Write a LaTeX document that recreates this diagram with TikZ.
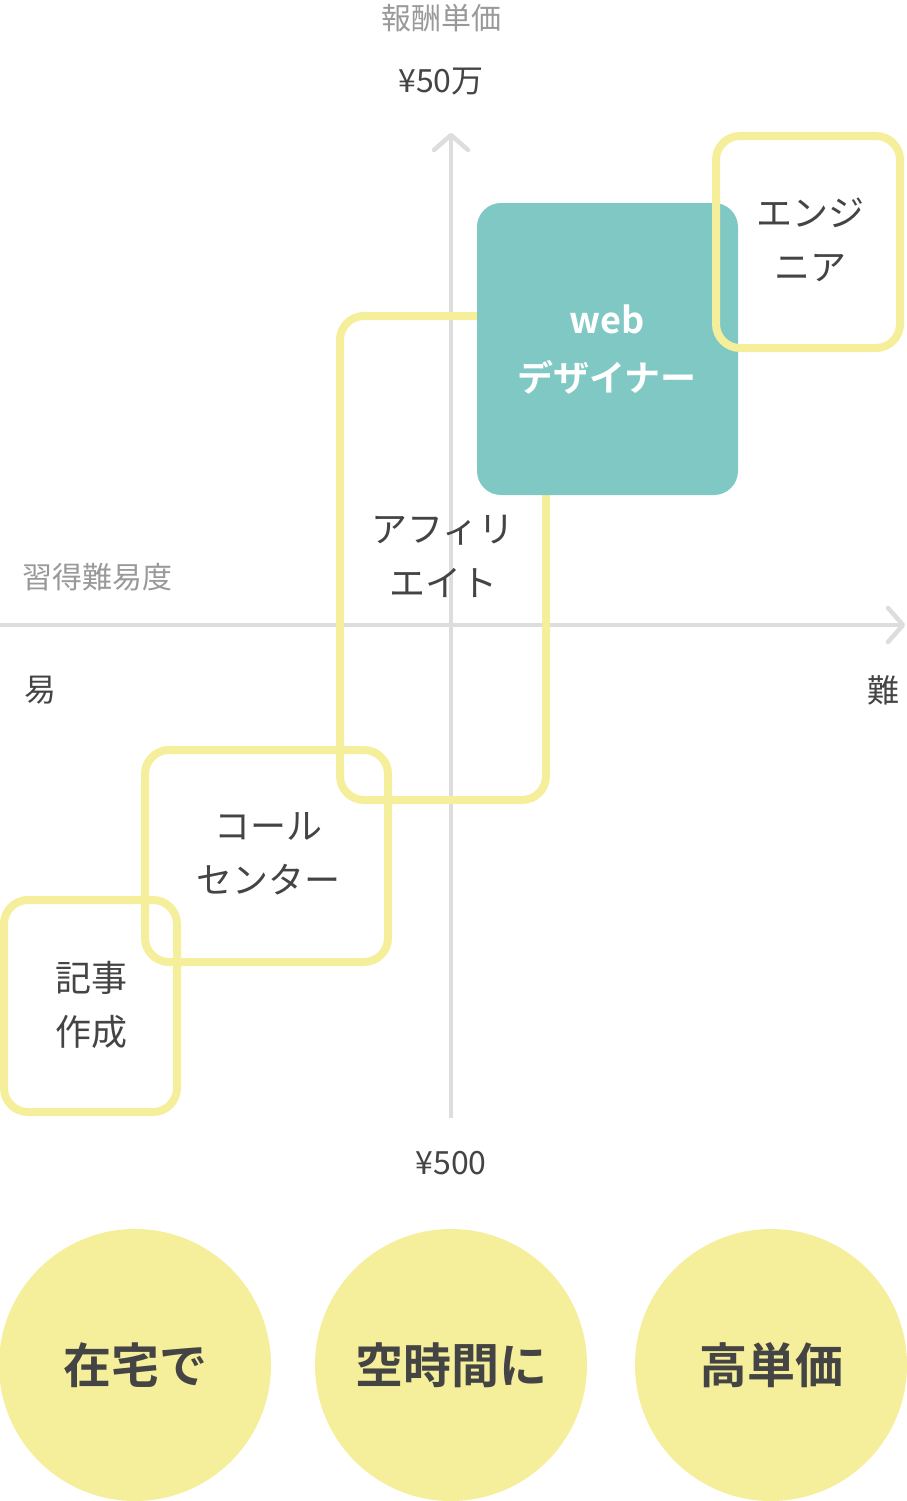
\documentclass[tikz,border=0pt]{standalone}
\usepackage{fontspec}
\setmainfont{Noto Sans CJK JP}
\newfontfamily\jpbold{Noto Sans CJK JP Bold}
\definecolor{axisg}{HTML}{DDDDDD}
\definecolor{ylw}{HTML}{F5EE9A}
\definecolor{teal}{HTML}{80C8C4}
\definecolor{txt}{HTML}{444444}
\definecolor{lbl}{HTML}{999999}
\begin{document}
\begin{tikzpicture}[x=1pt,y=-1pt,
  axis/.style={draw=axisg,line width=4.5pt},
  ybox/.style={draw=ylw,line width=8pt,rounded corners=24pt},
  btxt/.style={text=txt,font=\fontsize{36}{54}\selectfont,align=center},
  lab/.style={text=lbl,font=\fontsize{30}{36}\selectfont},
  val/.style={text=txt,font=\fontsize{32}{36}\selectfont},
  circ/.style={circle,fill=ylw,minimum size=272pt,inner sep=0pt,text=txt,font=\jpbold\fontsize{48}{52}\selectfont}]
\useasboundingbox (0,0) rectangle (907,1501);
\coordinate (vb) at (451,1118); \coordinate (vt) at (451,135);
\coordinate (hl) at (0,625); \coordinate (hr) at (903,625);
\draw[axis] (vb) -- (vt);
\draw[axis,line cap=round,line join=round] (434,150) -- (vt) -- (468,150);
\draw[axis] (hl) -- (hr);
\draw[axis,line cap=round,line join=round] (888,608) -- (hr) -- (888,642);
\node[lab] (ylab) at (441,18) {報酬単価};
\node[val] (ytop) at (441,82) {¥50万};
\node[lab] (xlab) at (97,577) {習得難易度};
\node[val] (easy) at (40,690) {易};
\node[val] (hard) at (883,690) {難};
\node[val] (ybot) at (451,1163) {¥500};
\draw[ybox] (340,316) rectangle (546,800);
\draw[ybox] (145,750) rectangle (388,962);
\draw[ybox] (4,900) rectangle (177,1112);
\fill[teal,rounded corners=24pt] (477,203) rectangle (738,495);
\draw[ybox] (716,136) rectangle (900,348);
\node[btxt] (eng) at (810,240) {エンジ\\ニア};
\node[text=white,font=\jpbold\fontsize{36}{58}\selectfont,align=center] (web) at (607,350) {web\\デザイナー};
\node[btxt] (aff) at (443,556) {アフィリ\\エイト};
\node[btxt] (call) at (268,854) {コール\\センター};
\node[btxt] (kiji) at (91,1005) {記事\\作成};
\node[circ] (c1) at (135,1365) {在宅で};
\node[circ] (c2) at (451,1365) {空時間に};
\node[circ] (c3) at (771,1365) {高単価};
\end{tikzpicture}
\end{document}
